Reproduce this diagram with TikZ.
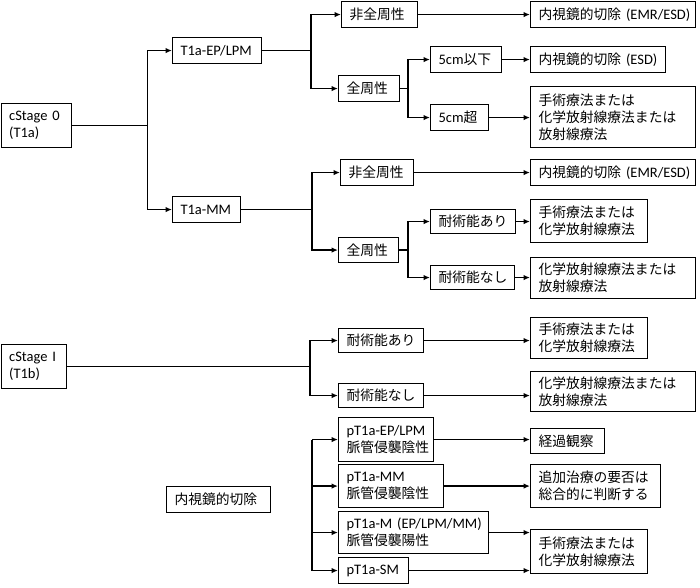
\documentclass[tikz,border=0pt]{standalone}
\usepackage{fontspec}
\setmainfont{Carlito}
\newfontfamily\jpf{Noto Sans CJK JP}[Scale=0.95]
\newcommand\J[1]{{\jpf #1}}
\newcommand\fs{\fontsize{14.5}{17}\selectfont}
\usetikzlibrary{arrows.meta}
\hyphenpenalty=10000 \exhyphenpenalty=10000
\begin{document}
\begin{tikzpicture}[x=1pt,y=-1pt,
  bx/.style={draw, line width=1.1pt, anchor=north west, inner xsep=8pt, inner ysep=0pt, align=left, font=\fs},
  ln/.style={line width=1.5pt},
  arr/.style={line width=1.5pt, -{Latex[length=6.5pt,width=5.5pt]}}]
\useasboundingbox (0,0) rectangle (700,587);
% cStage 0
\node[bx,text width=54pt,minimum height=44pt] (A0) at (0.6,103) {cStage~0\\(T1a)};
\node[bx,text width=73pt,minimum height=26pt] (A1) at (172,37) {T1a-EP/LPM};
\node[bx,text width=52pt,minimum height=26pt] (A2) at (172,196) {T1a-MM};
\node[bx,text width=60pt,minimum height=26pt] (B1) at (341,1) {\J{非全周性}};
\node[bx,text width=45pt,minimum height=26pt] (B2) at (338,75) {\J{全周性}};
\node[bx,text width=55pt,minimum height=26pt] (C1) at (430,46) {5cm\J{以下}};
\node[bx,text width=42pt,minimum height=26pt] (C2) at (430,104) {5cm\J{超}};
\node[bx,text width=149pt,minimum height=26pt] (D1) at (530,1) {\J{内視鏡的切除}~(EMR/ESD)};
\node[bx,text width=119pt,minimum height=26pt] (D2) at (530,46) {\J{内視鏡的切除}~(ESD)};
\node[bx,text width=149pt,minimum height=61pt] (D3) at (530,86) {\J{手術療法または}\\\J{化学放射線療法または}\\\J{放射線療法}};
\node[bx,text width=57pt,minimum height=26pt] (B3) at (340,159) {\J{非全周性}};
\node[bx,text width=44pt,minimum height=25pt] (B4) at (338,237) {\J{全周性}};
\node[bx,text width=69pt,minimum height=24pt] (C3) at (430,209) {\J{耐術能あり}};
\node[bx,text width=68pt,minimum height=24pt] (C4) at (430,265) {\J{耐術能なし}};
\node[bx,text width=149pt,minimum height=26pt] (D4) at (530,159) {\J{内視鏡的切除}~(EMR/ESD)};
\node[bx,text width=101pt,minimum height=43pt] (D5) at (530,199) {\J{手術療法または}\\\J{化学放射線療法}};
\node[bx,text width=149pt,minimum height=41pt] (D6) at (530,257) {\J{化学放射線療法または}\\\J{放射線療法}};
% cStage I
\node[bx,text width=49.5pt,minimum height=44pt] (E0) at (0.6,344) {cStage~I\\(T1b)};
\node[bx,text width=69pt,minimum height=24pt] (E1) at (338,328) {\J{耐術能あり}};
\node[bx,text width=69pt,minimum height=24pt] (E2) at (338,383) {\J{耐術能なし}};
\node[bx,text width=101pt,minimum height=41pt] (F1) at (530,317) {\J{手術療法または}\\\J{化学放射線療法}};
\node[bx,text width=149pt,minimum height=40pt] (F2) at (530,371) {\J{化学放射線療法または}\\\J{放射線療法}};
% endoscopic resection
\node[bx,text width=88pt,minimum height=26pt] (G0) at (166,486) {\J{内視鏡的切除}};
\node[bx,text width=79pt,minimum height=44pt] (H1) at (338,417) {pT1a-EP/LPM\\\J{脈管侵襲陰性}};
\node[bx,text width=89pt,minimum height=43pt] (H2) at (338,464) {pT1a-MM\\\J{脈管侵襲陰性}};
\node[bx,text width=134pt,minimum height=42pt] (H3) at (338,511) {pT1a-M~(EP/LPM/MM)\\\J{脈管侵襲陽性}};
\node[bx,text width=54pt,minimum height=26pt] (H4) at (338,557) {pT1a-SM};
\node[bx,text width=58pt,minimum height=25pt] (I1) at (530,428) {\J{経過観察}};
\node[bx,text width=114pt,minimum height=43pt] (I2) at (530,464) {\J{追加治療の要否は}\\\J{総合的に判断する}};
\node[bx,text width=101pt,minimum height=44pt] (I3) at (530,529) {\J{手術療法または}\\\J{化学放射線療法}};
% junctions
\coordinate (j0) at ([xshift=76pt]A0.east);
\coordinate (j1) at ([xshift=49pt]A1.east);
\coordinate (j2) at ([xshift=71pt]A2.east);
\coordinate (j3) at ([xshift=8pt]B2.east);
\coordinate (j4) at ([xshift=9pt]B4.east);
\coordinate (j5) at ([xshift=243pt]E0.east);
\coordinate (j6) at ([xshift=-26pt]H1.west);
% connectors
\draw[ln] (A0.east) -- (j0);
\draw[arr] (j0) |- (A1.west);
\draw[arr] (j0) |- (A2.west);
\draw[ln] (A1.east) -- (j1);
\draw[arr] (j1) |- (B1.west);
\draw[arr] (j1) |- (B2.west);
\draw[ln] (B2.east) -- (j3);
\draw[arr] (j3) |- (C1.west);
\draw[arr] (j3) |- (C2.west);
\draw[arr] (B1.east) -- (B1.east -| D1.west);
\draw[arr] (C1.east) -- (C1.east -| D2.west);
\draw[arr] (C2.east) -- (C2.east -| D3.west);
\draw[ln] (A2.east) -- (j2);
\draw[arr] (j2) |- (B3.west);
\draw[arr] (j2) |- (B4.west);
\draw[ln] (B4.east) -- (j4);
\draw[arr] (j4) |- (C3.west);
\draw[arr] (j4) |- (C4.west);
\draw[arr] (B3.east) -- (B3.east -| D4.west);
\draw[arr] (C3.east) -- (C3.east -| D5.west);
\draw[arr] (C4.east) -- (C4.east -| D6.west);
\draw[ln] (E0.east) -- (j5);
\draw[arr] (j5) |- (E1.west);
\draw[arr] (j5) |- (E2.west);
\draw[arr] (E1.east) -- (E1.east -| F1.west);
\draw[arr] (E2.east) -- (E2.east -| F2.west);
\draw[arr] (j6) -- (H1.west);
\draw[arr] (j6) |- (H2.west);
\draw[arr] (j6) |- (H3.west);
\draw[arr] (j6) |- (H4.west);
\draw[arr] (H1.east) -- (H1.east -| I1.west);
\draw[arr] (H2.east) -- (H2.east -| I2.west);
\draw[arr] (H3.east) -- (H3.east -| I3.west);
\draw[arr] (H4.east) -- (H4.east -| I3.west);
\end{tikzpicture}
\end{document}
